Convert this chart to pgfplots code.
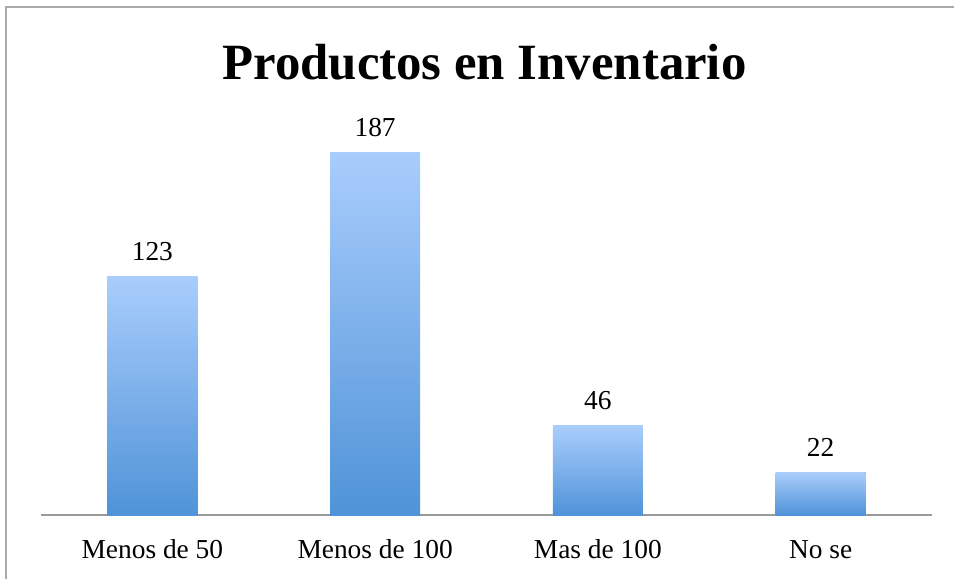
\documentclass[border=0pt]{standalone}
\usepackage{pgfplots}
\pgfplotsset{compat=1.18}
\usepackage{fontspec}
\setmainfont{Liberation Serif}
\definecolor{bartop}{HTML}{A9CDFC}
\definecolor{barbot}{HTML}{4F93D8}
\definecolor{axgray}{HTML}{9A9A9A}
\definecolor{framegray}{HTML}{ABABAB}
\begin{document}
\begin{tikzpicture}
\begin{axis}[name=ax, scale only axis, width=891bp, height=387.2bp,
  xmin=-0.5, xmax=3.5, ymin=0, ymax=200, clip=false,
  /pgf/number format/assume math mode=true,
  axis y line=none, axis x line*=bottom,
  x axis line style={-, draw=axgray, line width=1.5bp},
  xtick={0,1,2,3}, xticklabels={Menos de 50, Menos de 100, Mas de 100, No se},
  major tick length=0pt,
  xticklabel style={anchor=base, yshift=-43bp, font=\fontsize{27.5}{30}\selectfont},
  ybar, bar width=90bp, bar shift=0pt,
  nodes near coords,
  nodes near coords style={anchor=base, yshift=16bp, font=\fontsize{27.5}{30}\selectfont, text=black},
  every axis plot/.append style={draw=none, top color=bartop, bottom color=barbot}]
\addplot coordinates {(0,123)};
\addplot coordinates {(1,187)};
\addplot coordinates {(2,46)};
\addplot coordinates {(3,22)};
\end{axis}
\node[font=\bfseries\fontsize{51}{55}\selectfont, anchor=base, inner sep=0pt] at ([shift={(443.5bp,435bp)}]ax.south west) {Productos en Inventario};
\draw[framegray, line width=1.5bp] ([shift={(-35bp,-64bp)}]ax.south west) -- ([shift={(-35bp,508bp)}]ax.south west) -- ([shift={(913bp,508bp)}]ax.south west);
\pgfresetboundingbox
\useasboundingbox ([shift={(-41bp,-64bp)}]ax.south west) rectangle ([shift={(913bp,515bp)}]ax.south west);
\end{tikzpicture}
\end{document}
